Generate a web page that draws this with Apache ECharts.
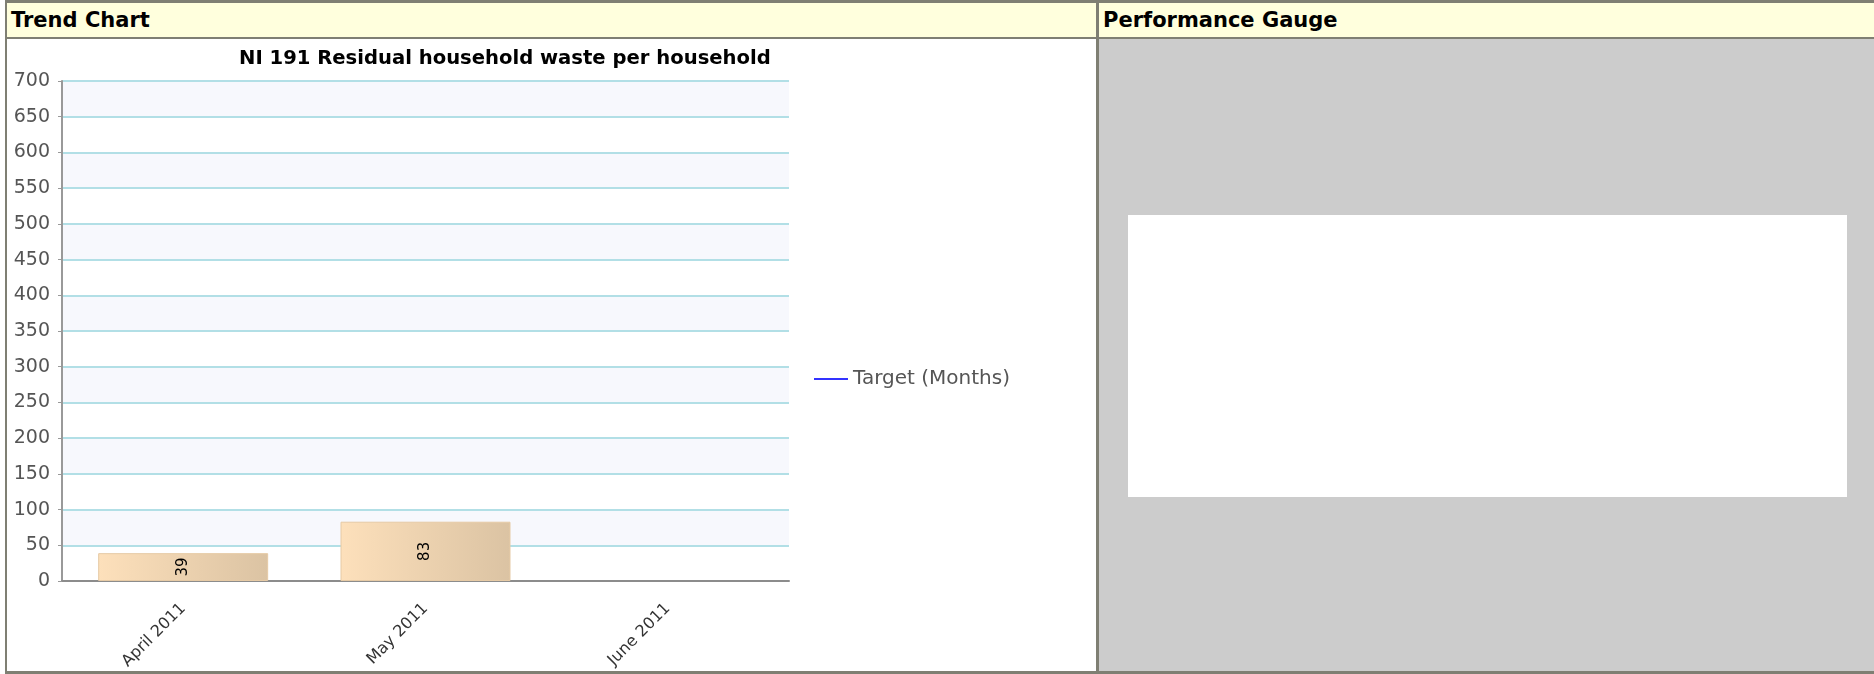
<!DOCTYPE html>
<html>
<head>
<meta charset="utf-8">
<title>Trend Chart</title>
<script src="https://cdn.jsdelivr.net/npm/echarts@6/dist/echarts.min.js"></script>
<style>
    body { margin: 0; background: #fff; font-family: "DejaVu Sans", Verdana, sans-serif; }
    .frame { position: absolute; left: 5px; top: 0; width: 1869px; height: 674px; background: #7f7f73; }
    .head { position: absolute; top: 3px; height: 34px; background: #ffffdd; font-weight: bold; font-size: 21px; line-height: 34px; color: #000; box-sizing: border-box; padding-left: 4px; }
    .panel { position: absolute; top: 39px; height: 632px; }
</style>
</head>
<body>
<div class="frame"></div>
<div class="head" style="left:7px;width:1089px;">Trend Chart</div>
<div class="head" style="left:1099px;width:775px;">Performance Gauge</div>
<div class="panel" style="left:7px;width:1089px;background:#fff;">
    <div id="trend" style="width:100%;height:100%;"></div>
</div>
<div class="panel" style="left:1099px;width:775px;background:#cccccc;">
    <div style="position:absolute;left:29px;top:176px;width:719px;height:282px;background:#fff;"></div>
</div>

<script>
    const categories = ['April 2011', 'May 2011', 'June 2011']
    const actualValues = [39, 83, null]
    const targetValues = [null, null, null]
    const yTicks = { min: 0, max: 700, interval: 50 }

    const font = 'DejaVu Sans'
    // 基于准备好的dom，初始化echarts实例
    let myChart = echarts.init(document.getElementById('trend'))
    myChart.setOption({
        animation: false,
        title: {
            text: 'NI 191 Residual household waste per household',
            left: 227,
            top: 5,
            textStyle: { fontFamily: font, fontSize: 19.6, fontWeight: 'bold', color: '#000' }
        },
        legend: {
            data: ['Target (Months)'],
            orient: 'vertical',
            left: 802,
            top: 325,
            icon: 'rect',
            itemWidth: 34,
            itemHeight: 2,
            itemGap: 5,
            textStyle: { fontFamily: font, fontSize: 20, color: '#555' }
        },
        grid: { left: 55, top: 42, width: 727, height: 500, containLabel: false, outerBoundsMode: 'none' },
        xAxis: {
            type: 'category',
            data: categories,
            axisLine: { lineStyle: { color: '#8c8c8c', width: 2 } },
            axisTick: { alignWithLabel: true, length: 5, lineStyle: { color: '#8c8c8c' } },
            axisLabel: { rotate: 45, margin: 25, fontFamily: font, fontSize: 16, color: '#333' }
        },
        yAxis: {
            type: 'value',
            min: yTicks.min,
            max: yTicks.max,
            interval: yTicks.interval,
            axisLine: { show: true, lineStyle: { color: '#999', width: 2 } },
            axisTick: { show: true, length: 4, lineStyle: { color: '#999' } },
            axisLabel: { margin: 12, fontFamily: font, fontSize: 19, color: '#555' },
            splitLine: { lineStyle: { color: '#b2dfe6', width: 2 } },
            splitArea: { show: true, areaStyle: { color: ['#ffffff', '#f7f8fd'] } }
        },
        series: [
            {
                name: 'Actual',
                type: 'bar',
                barWidth: 170,
                data: actualValues,
                itemStyle: {
                    borderColor: '#e6caa5',
                    borderWidth: 1,
                    color: {
                        type: 'linear', x: 0, y: 0, x2: 1, y2: 0,
                        colorStops: [
                            { offset: 0, color: '#fde0bb' },
                            { offset: 1, color: '#dbc3a3' }
                        ]
                    }
                },
                label: {
                    show: true,
                    position: 'inside',
                    rotate: 90,
                    fontFamily: font,
                    fontSize: 15,
                    color: '#000'
                }
            },
            {
                name: 'Target (Months)',
                type: 'line',
                data: targetValues,
                showSymbol: false,
                itemStyle: { color: '#3333ff' },
                lineStyle: { color: '#3333ff', width: 2 }
            }
        ]
    })
</script>
</body>
</html>
